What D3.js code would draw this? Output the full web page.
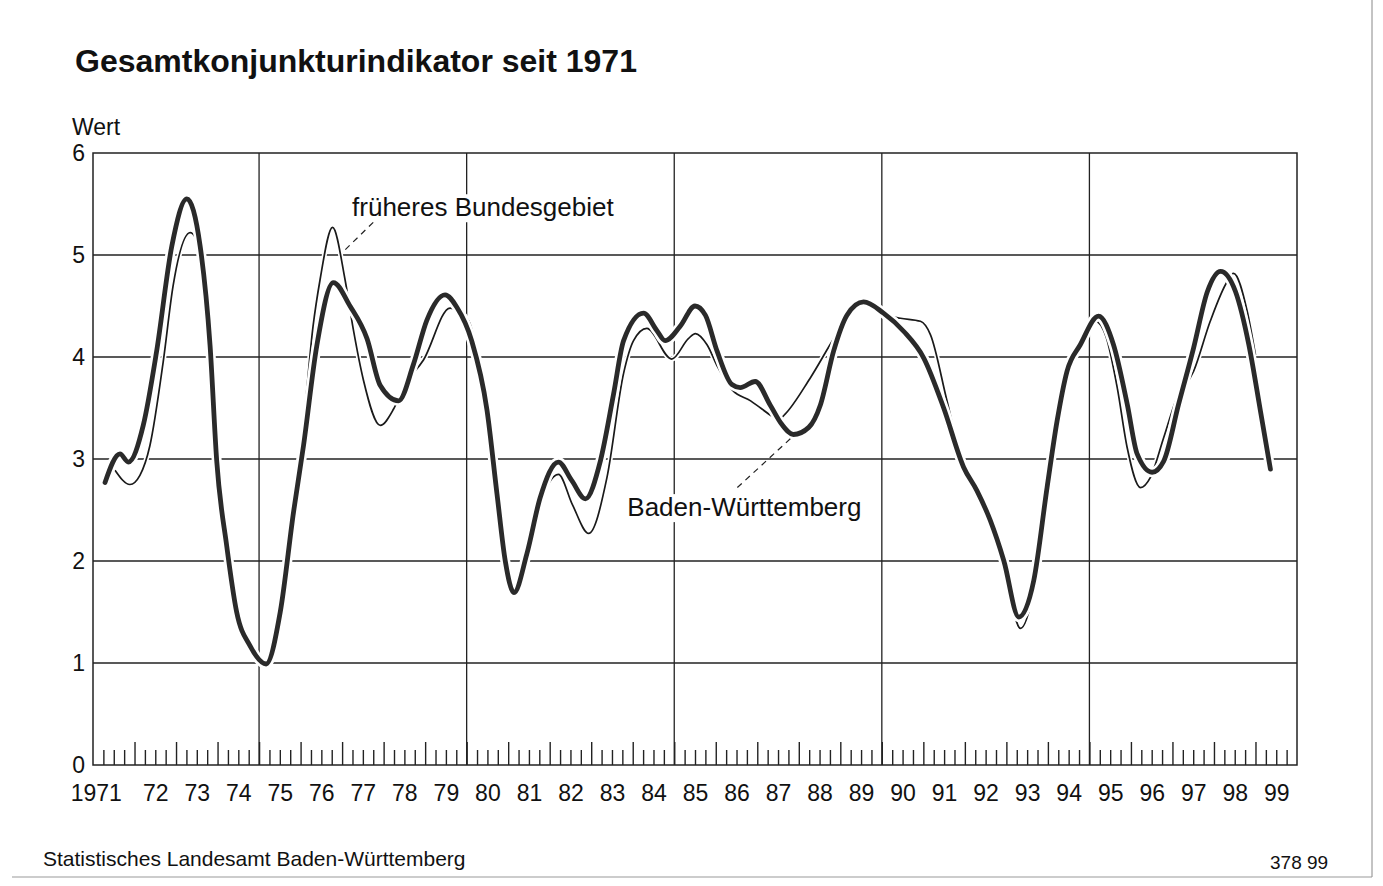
<!DOCTYPE html>
<html>
<head>
<meta charset="utf-8">
<script src="https://cdn.jsdelivr.net/npm/d3@7"></script>
<style>
  body { margin: 0; background: #fff; }
  text { font-family: "Liberation Sans", Arial, sans-serif; fill: #111; }
</style>
</head>
<body>
<svg id="chart" width="1383" height="886"></svg>
<script>
// Baden-Württemberg (thick line), decimal year / value
var bwYears = [1971.29, 1971.65, 1971.85, 1972.21, 1972.53, 1972.90, 1973.26, 1973.58, 1973.82, 1973.98,
  1974.22, 1974.46, 1974.78, 1975.17, 1975.51, 1975.83, 1976.07, 1976.39, 1976.79, 1977.19,
  1977.60, 1977.92, 1978.36, 1978.72, 1979.04, 1979.48, 1979.76, 1980.12, 1980.49, 1980.73,
  1980.93, 1981.14, 1981.45, 1981.77, 1982.21, 1982.53, 1982.86, 1983.22, 1983.54, 1983.78,
  1984.26, 1984.58, 1984.78, 1985.14, 1985.50, 1985.75, 1986.03, 1986.39, 1986.59, 1986.95,
  1987.31, 1987.59, 1987.87, 1988.24, 1988.52, 1988.84, 1989.16, 1989.56, 1990.04, 1990.53,
  1991.01, 1991.49, 1991.97, 1992.29, 1992.61, 1992.94, 1993.30, 1993.66, 1993.98, 1994.22,
  1994.46, 1994.78, 1995.22, 1995.58, 1995.91, 1996.15, 1996.51, 1996.79, 1997.15, 1997.51,
  1997.84, 1998.16, 1998.52, 1998.84, 1999.12, 1999.36];
var bwValues = [2.77, 3.05, 2.97, 3.33, 4.05, 5.09, 5.55, 5.09, 4.11, 2.98,
  2.15, 1.50, 1.17, 0.99, 1.50, 2.48, 3.13, 4.11, 4.73, 4.50,
  4.18, 3.72, 3.57, 3.93, 4.36, 4.61, 4.49, 4.16, 3.48, 2.66,
  2.00, 1.69, 2.07, 2.62, 2.97, 2.79, 2.61, 2.98, 3.64, 4.16,
  4.43, 4.26, 4.16, 4.30, 4.50, 4.41, 4.06, 3.73, 3.70, 3.76,
  3.53, 3.34, 3.24, 3.31, 3.53, 4.06, 4.41, 4.54, 4.43, 4.25,
  3.99, 3.50, 2.92, 2.69, 2.40, 2.00, 1.45, 1.81, 2.72, 3.37,
  3.86, 4.12, 4.40, 4.12, 3.54, 3.05, 2.87, 2.98, 3.54, 4.09,
  4.64, 4.84, 4.64, 4.12, 3.47, 2.90];

// früheres Bundesgebiet (thin line)
var fbYears = [1971.53, 1971.89, 1972.13, 1972.37, 1972.69, 1972.93, 1973.34, 1973.60, 1973.84, 1974.00,
  1974.22, 1974.46, 1974.78, 1975.17, 1975.51, 1975.83, 1976.07, 1976.30, 1976.47, 1976.77,
  1977.07, 1977.27, 1977.51, 1977.92, 1978.24, 1978.50, 1978.96, 1979.60, 1980.04, 1980.30,
  1980.55, 1980.78, 1981.00, 1981.20, 1981.45, 1981.77, 1982.21, 1982.55, 1982.94, 1983.38,
  1983.78, 1984.02, 1984.34, 1984.94, 1985.34, 1985.51, 1985.79, 1986.05, 1986.39, 1986.84,
  1987.35, 1987.50, 1987.67, 1988.27, 1988.92, 1989.30, 1989.60, 1990.04, 1990.45, 1990.93,
  1991.17, 1991.57, 1991.97, 1992.29, 1992.61, 1992.94, 1993.34, 1993.66, 1993.98, 1994.22,
  1994.46, 1994.78, 1995.15, 1995.40, 1995.67, 1995.91, 1996.23, 1996.47, 1996.79, 1997.08,
  1997.51, 1997.91, 1998.32, 1998.47, 1998.80, 1999.00];
var fbValues = [2.89, 2.75, 2.84, 3.13, 3.95, 4.70, 5.22, 5.00, 4.00, 2.95,
  2.15, 1.52, 1.18, 1.00, 1.55, 2.60, 3.35, 4.30, 4.76, 5.27,
  4.76, 4.27, 3.78, 3.33, 3.49, 3.72, 3.97, 4.48, 4.36, 3.95,
  3.30, 2.50, 1.85, 1.70, 2.00, 2.55, 2.85, 2.55, 2.27, 2.82,
  3.84, 4.16, 4.28, 3.98, 4.18, 4.23, 4.12, 3.90, 3.68, 3.57,
  3.42, 3.38, 3.44, 3.79, 4.23, 4.45, 4.52, 4.42, 4.38, 4.35,
  4.22, 3.57, 2.92, 2.69, 2.40, 1.95, 1.34, 1.72, 2.70, 3.37,
  3.86, 4.12, 4.35, 4.20, 3.70, 3.11, 2.72, 2.82, 3.21, 3.57,
  3.86, 4.35, 4.74, 4.82, 4.45, 4.02];

var yearLabels = ["1971", "72", "73", "74", "75", "76", "77", "78", "79", "80", "81", "82", "83", "84", "85",
  "86", "87", "88", "89", "90", "91", "92", "93", "94", "95", "96", "97", "98", "99"];
var yTicks = [0, 1, 2, 3, 4, 5, 6];
var gridYears = [1975, 1980, 1985, 1990, 1995];

var svg = d3.select("#chart");
svg.append("rect").attr("width", 1383).attr("height", 886).attr("fill", "#fff");

var pLeft = 93, pRight = 1297, pTop = 153, pBottom = 765;
var x = d3.scaleLinear().domain([1971, 2000]).range([pLeft, pRight]);
var y = d3.scaleLinear().domain([0, 6]).range([pBottom, pTop]);

// page frame of the scan
svg.append("line").attr("x1", 1372).attr("x2", 1372).attr("y1", 0).attr("y2", 877)
  .attr("stroke", "#888").attr("stroke-width", 1);
svg.append("line").attr("x1", 12).attr("x2", 1372).attr("y1", 877).attr("y2", 877)
  .attr("stroke", "#999").attr("stroke-width", 1);

// title
svg.append("text").attr("x", 75).attr("y", 72)
  .attr("font-size", 32).attr("font-weight", "bold")
  .text("Gesamtkonjunkturindikator seit 1971");

svg.append("text").attr("x", 72).attr("y", 135).attr("font-size", 23).text("Wert");

// grid
svg.append("g").selectAll("line").data(yTicks.slice(1, 6)).enter().append("line")
  .attr("x1", pLeft).attr("x2", pRight)
  .attr("y1", function(d) { return y(d); }).attr("y2", function(d) { return y(d); })
  .attr("stroke", "#222").attr("stroke-width", 1.3);
svg.append("g").selectAll("line").data(gridYears).enter().append("line")
  .attr("x1", function(d) { return x(d); }).attr("x2", function(d) { return x(d); })
  .attr("y1", pTop).attr("y2", pBottom)
  .attr("stroke", "#222").attr("stroke-width", 1.3);

// quarterly and yearly ticks inside the plot
var quarters = d3.range(1971, 2000, 0.25).filter(function(d) { return d % 1 !== 0; });
var years = d3.range(1972, 2000);
var qAxis = svg.append("g").attr("transform", "translate(0," + pBottom + ")")
  .call(d3.axisBottom(x).tickValues(quarters).tickSize(-15).tickFormat(""));
var yrAxis = svg.append("g").attr("transform", "translate(0," + pBottom + ")")
  .call(d3.axisBottom(x).tickValues(years).tickSize(-23).tickFormat(""));
[qAxis, yrAxis].forEach(function(g) {
  g.select(".domain").remove();
  g.selectAll("line").attr("stroke", "#222").attr("stroke-width", 1.4);
});

// year labels centred in each year
var labAxis = svg.append("g").attr("transform", "translate(0," + pBottom + ")")
  .call(d3.axisBottom(x).tickValues(d3.range(1971.5, 2000, 1)).tickSize(0).tickPadding(20)
    .tickFormat(function(d, i) { return yearLabels[i]; }));
labAxis.select(".domain").remove();
labAxis.selectAll("text").attr("font-size", 23).attr("font-family", "Liberation Sans, Arial, sans-serif")
  .attr("fill", "#111")
  .attr("dx", function(d, i) { return i === 0 ? -18 : 0; });

// y labels
var yAx = svg.append("g").attr("transform", "translate(" + pLeft + ",0)")
  .call(d3.axisLeft(y).tickValues(yTicks).tickSize(0).tickPadding(8).tickFormat(d3.format("d")));
yAx.select(".domain").remove();
yAx.selectAll("text").attr("font-size", 23).attr("font-family", "Liberation Sans, Arial, sans-serif")
  .attr("fill", "#111");

// plot frame
svg.append("rect").attr("x", pLeft).attr("y", pTop).attr("width", pRight - pLeft).attr("height", pBottom - pTop)
  .attr("fill", "none").attr("stroke", "#222").attr("stroke-width", 1.5);

// series, each with a white casing like the printed original
var line = d3.line()
  .x(function(d) { return x(d[0]); })
  .y(function(d) { return y(d[1]); })
  .curve(d3.curveMonotoneX);

var fb = d3.zip(fbYears, fbValues), bw = d3.zip(bwYears, bwValues);
svg.append("path").datum(fb).attr("d", line)
  .attr("fill", "none").attr("stroke", "#fff").attr("stroke-width", 5);
svg.append("path").datum(fb).attr("d", line)
  .attr("fill", "none").attr("stroke", "#1a1a1a").attr("stroke-width", 1.7);
svg.append("path").datum(bw).attr("d", line)
  .attr("fill", "none").attr("stroke", "#fff").attr("stroke-width", 10)
  .attr("stroke-linejoin", "round");
svg.append("path").datum(bw).attr("d", line)
  .attr("fill", "none").attr("stroke", "#2a2a2a").attr("stroke-width", 4.8)
  .attr("stroke-linejoin", "round").attr("stroke-linecap", "round");

// labels with dashed leaders
function label(yr, v, txt) {
  var t = svg.append("text").attr("x", x(yr)).attr("y", y(v)).attr("font-size", 26).text(txt);
  var b = t.node().getBBox();
  svg.insert("rect", function() { return t.node(); })
    .attr("x", b.x - 3).attr("y", b.y + 2).attr("width", b.width + 6).attr("height", b.height - 2)
    .attr("fill", "#fff");
}
label(1977.24, 5.38, "früheres Bundesgebiet");
svg.append("line").attr("x1", x(1977.75)).attr("y1", y(5.32)).attr("x2", x(1977.02)).attr("y2", y(5.03))
  .attr("stroke", "#222").attr("stroke-width", 1.2).attr("stroke-dasharray", "6,5");

label(1983.87, 2.44, "Baden-Württemberg");
svg.append("line").attr("x1", x(1986.52)).attr("y1", y(2.72)).attr("x2", x(1987.8)).attr("y2", y(3.2))
  .attr("stroke", "#222").attr("stroke-width", 1.2).attr("stroke-dasharray", "6,5");

// footer
svg.append("text").attr("x", 43).attr("y", 866).attr("font-size", 21).text("Statistisches Landesamt Baden-Württemberg");
svg.append("text").attr("x", 1270).attr("y", 869).attr("font-size", 19).text("378 99");
</script>
</body>
</html>
